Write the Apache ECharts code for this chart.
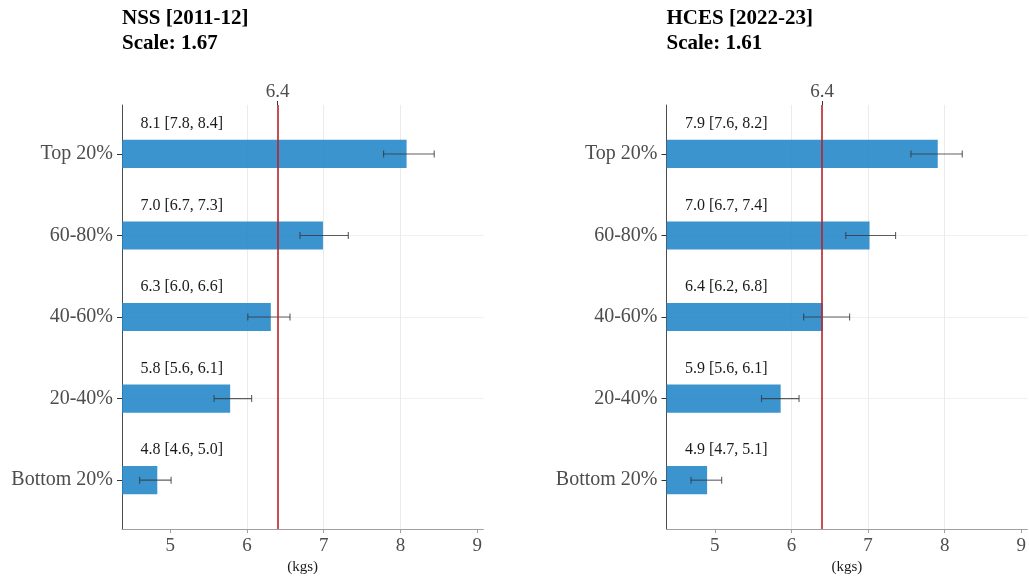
<!DOCTYPE html>
<html>
<head>
<meta charset="utf-8">
<script src="https://cdn.jsdelivr.net/npm/echarts@6/dist/echarts.min.js"></script>
<style>html,body{margin:0;padding:0;background:#fff}#c{width:1029px;height:580px}</style>
</head>
<body>
<div id="c"></div>
<script>
const categories = ['Bottom 20%', '20-40%', '40-60%', '60-80%', 'Top 20%'];
const panelTitles = ['NSS [2011-12]', 'HCES [2022-23]'];
const panelScales = [1.67, 1.61];
const nssMean = [4.83, 5.78, 6.31, 6.99, 8.08];
const nssLow  = [4.60, 5.57, 6.01, 6.69, 7.78];
const nssHigh = [5.01, 6.06, 6.56, 7.32, 8.44];
const hcesMean = [4.90, 5.86, 6.41, 7.02, 7.91];
const hcesLow  = [4.69, 5.61, 6.16, 6.71, 7.56];
const hcesHigh = [5.09, 6.10, 6.76, 7.36, 8.23];
const xTicks = [5, 6, 7, 8, 9];
const threshold = 6.4;
const xLabel = '(kgs)';

const FONT = '"Liberation Serif", "DejaVu Serif", serif';
const X_MIN = 4.37, X_MAX = 9.08, Y_MIN = 0.4, Y_MAX = 5.6;
const LABEL_X = 4.61, LABEL_DY = 0.37, BAR_H = 0.345;
const BAR_COLOR = 'rgba(31,132,200,0.87)';
const RED = '#b8232a';

const panels = [
  {mean: nssMean, low: nssLow, high: nssHigh, left: 122, title: panelTitles[0], scale: panelScales[0]},
  {mean: hcesMean, low: hcesLow, high: hcesHigh, left: 666.5, title: panelTitles[1], scale: panelScales[1]}
];
const GRID_W = 361.3;

const chart = echarts.init(document.getElementById('c'), null, {renderer: 'canvas'});

function renderItem(params, api) {
  const v = api.value(0), pos = api.value(1), lo = api.value(2), hi = api.value(3);
  const cs = params.coordSys;
  const end = api.coord([v, pos]);
  const h = api.size([0, BAR_H])[1];
  const pLo = api.coord([lo, pos]);
  const pHi = api.coord([hi, pos]);
  const tp = api.coord([LABEL_X, pos + LABEL_DY]);
  const cap = 3.5;
  const eStyle = {stroke: 'rgba(55,55,55,0.8)', lineWidth: 1.1};
  return {
    type: 'group',
    children: [
      {type: 'rect', shape: {x: cs.x, y: end[1] - h / 2, width: end[0] - cs.x, height: h}, style: {fill: BAR_COLOR}},
      {type: 'line', shape: {x1: pLo[0], y1: pLo[1], x2: pHi[0], y2: pHi[1]}, style: eStyle},
      {type: 'line', shape: {x1: pLo[0], y1: pLo[1] - cap, x2: pLo[0], y2: pLo[1] + cap}, style: eStyle},
      {type: 'line', shape: {x1: pHi[0], y1: pHi[1] - cap, x2: pHi[0], y2: pHi[1] + cap}, style: eStyle},
      {type: 'text', x: tp[0], y: tp[1], style: {
        text: v.toFixed(1) + ' [' + lo.toFixed(1) + ', ' + hi.toFixed(1) + ']',
        fill: '#1a1a1a', font: '16px ' + FONT, align: 'left', verticalAlign: 'middle'
      }}
    ]
  };
}

const grid = [], xAxis = [], yAxis = [], series = [], title = [];
panels.forEach((p, i) => {
  grid.push({left: p.left, top: 105, width: GRID_W, bottom: 50, containLabel: false});
  title.push({
    text: p.title + '\nScale: ' + p.scale.toFixed(2),
    left: p.left, top: 6, padding: 0,
    textStyle: {fontFamily: FONT, fontWeight: 'bold', fontSize: 21, lineHeight: 25, color: '#000'}
  });
  xAxis.push({
    type: 'value', gridIndex: i, min: X_MIN, max: X_MAX, position: 'bottom',
    name: xLabel, nameLocation: 'middle', nameGap: 28,
    nameTextStyle: {fontFamily: FONT, fontSize: 15, color: '#1a1a1a'},
    axisLine: {show: true, lineStyle: {color: '#a0a0a0', width: 1}},
    axisTick: {show: true, customValues: xTicks, length: 4, lineStyle: {color: '#a0a0a0'}},
    axisLabel: {customValues: xTicks, fontFamily: FONT, fontSize: 19, color: '#4d4d4d', margin: 7,
      formatter: v => String(Math.round(v))},
    splitLine: {show: true, showMinLine: false, showMaxLine: false, lineStyle: {color: '#ebebeb', width: 1}}
  });
  xAxis.push({
    type: 'value', gridIndex: i, min: X_MIN, max: X_MAX, position: 'top',
    axisLine: {show: false},
    axisTick: {show: true, customValues: [threshold], length: 4, lineStyle: {color: '#333'}},
    axisLabel: {customValues: [threshold], fontFamily: FONT, fontSize: 19, color: '#4d4d4d', margin: 3,
      formatter: v => v.toFixed(1)},
    splitLine: {show: false}
  });
  yAxis.push({
    type: 'value', gridIndex: i, min: Y_MIN, max: Y_MAX,
    axisLine: {show: true, lineStyle: {color: '#4d4d4d', width: 1}},
    axisTick: {show: true, customValues: [1, 2, 3, 4, 5], length: 5, lineStyle: {color: '#333'}},
    axisLabel: {customValues: [1, 2, 3, 4, 5], fontFamily: FONT, fontSize: 20, color: '#4d4d4d', margin: 9,
      formatter: v => categories[Math.round(v) - 1] || ''},
    splitLine: {show: true, showMinLine: false, showMaxLine: false, lineStyle: {color: '#f0f0f0', width: 1}}
  });
  series.push({
    type: 'line', xAxisIndex: i * 2, yAxisIndex: i, data: [], z: 1, silent: true,
    markLine: {
      silent: true, symbol: ['none', 'none'],
      label: {show: false},
      lineStyle: {color: RED, width: 1.6, type: 'solid'},
      data: [{xAxis: threshold}]
    }
  });
  series.push({
    type: 'custom', xAxisIndex: i * 2, yAxisIndex: i, z: 3,
    renderItem: renderItem,
    encode: {x: [0, 2, 3], y: 1},
    data: categories.map((c, k) => [p.mean[k], k + 1, p.low[k], p.high[k]])
  });
});

chart.setOption({
  animation: false,
  backgroundColor: '#fff',
  title, grid, xAxis, yAxis, series
});
</script>
</body>
</html>
